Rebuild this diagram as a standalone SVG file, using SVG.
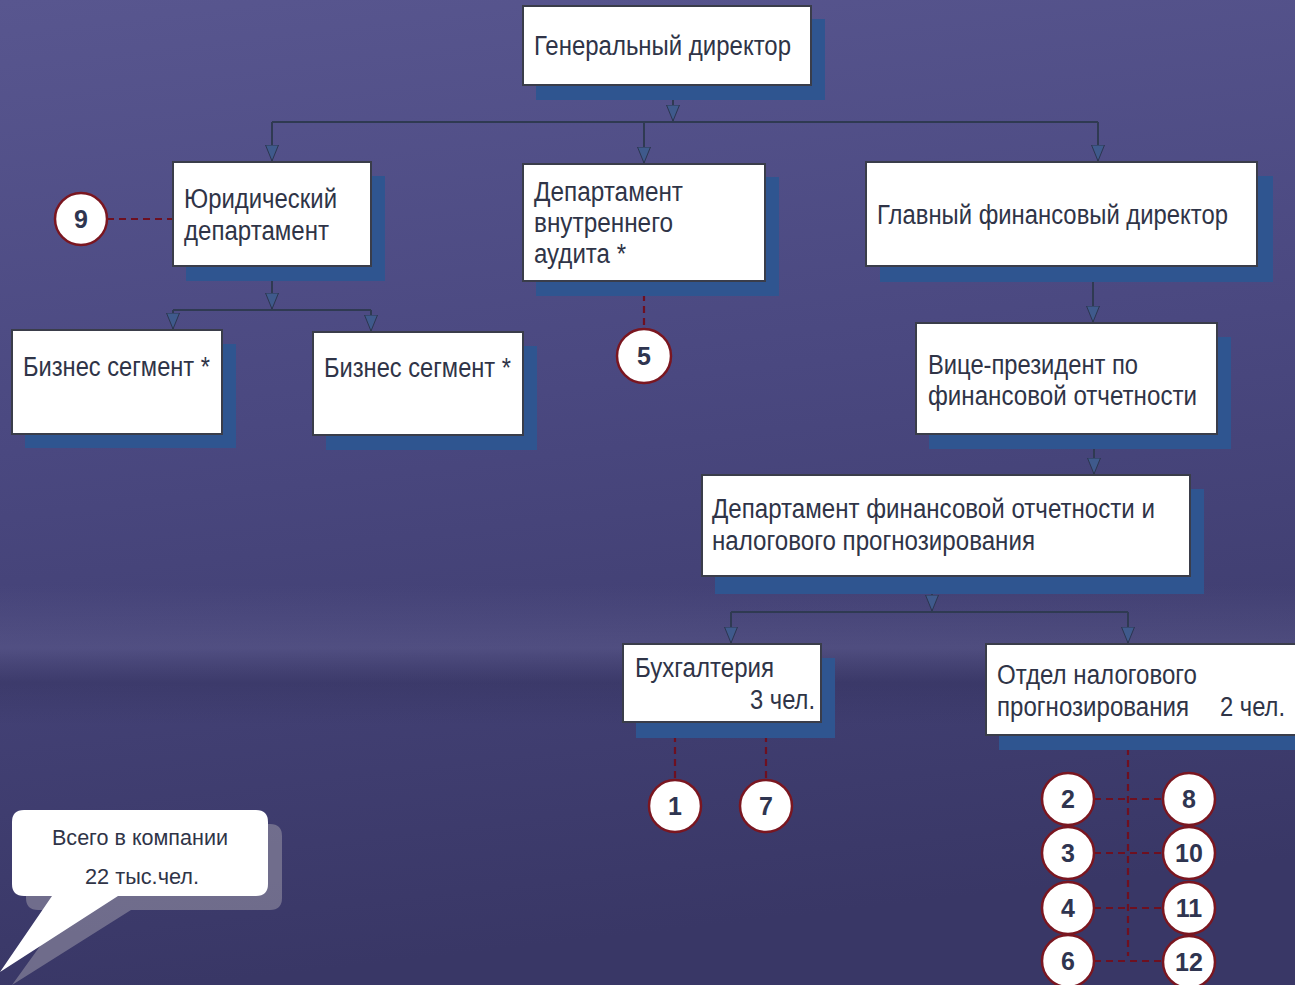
<svg xmlns="http://www.w3.org/2000/svg" width="1295" height="985" viewBox="0 0 1295 985">
<defs>
<linearGradient id="bg" x1="0" y1="0" x2="0.15" y2="1">
<stop offset="0" stop-color="#58568f"/>
<stop offset="0.45" stop-color="#4a4880"/>
<stop offset="1" stop-color="#393766"/>
</linearGradient>
<linearGradient id="band" x1="0" y1="0" x2="0" y2="1">
<stop offset="0" stop-color="#6a6898" stop-opacity="0"/>
<stop offset="0.45" stop-color="#6a6898" stop-opacity="0.35"/>
<stop offset="0.7" stop-color="#2e2c55" stop-opacity="0.3"/>
<stop offset="1" stop-color="#2e2c55" stop-opacity="0"/>
</linearGradient>
<marker id="arr" viewBox="0 0 16 14" refX="16" refY="7" markerWidth="16" markerHeight="14" markerUnits="userSpaceOnUse" orient="auto">
<path d="M0,0.5 L16,7 L0,13.5 z" fill="#3f5a8c" stroke="#2c3650" stroke-width="1"/>
</marker>
<style>
.box{fill:#ffffff;stroke:#3a3d4a;stroke-width:2}
.sh{fill:#2f5590}
.t{font-family:"Liberation Sans",Arial,sans-serif;font-size:27px;fill:#2f3447}
.ln{fill:none;stroke:#2f3a52;stroke-width:2}
.dash{fill:none;stroke:#6e1020;stroke-width:2.2;stroke-dasharray:7,5}
.c{fill:#ffffff;stroke:#7a1620;stroke-width:2.5}
.n{font-family:"Liberation Sans",Arial,sans-serif;font-size:25px;font-weight:bold;fill:#2f3550;text-anchor:middle}
.ct{font-family:"Liberation Sans",Arial,sans-serif;font-size:22px;fill:#2f3447;text-anchor:middle}
</style>
</defs>
<rect x="0" y="0" width="1295" height="985" fill="url(#bg)"/>
<rect x="0" y="585" width="1295" height="140" fill="url(#band)"/>

<g id="connectors">
<path class="ln" d="M673 86 V121" marker-end="url(#arr)"/>
<path class="ln" d="M272 122 H1098"/>
<path class="ln" d="M272 122 V161" marker-end="url(#arr)"/>
<path class="ln" d="M644 122 V163" marker-end="url(#arr)"/>
<path class="ln" d="M1098 122 V161" marker-end="url(#arr)"/>
<path class="ln" d="M272 267 V309" marker-end="url(#arr)"/>
<path class="ln" d="M173 310 H371"/>
<path class="ln" d="M173 310 V329" marker-end="url(#arr)"/>
<path class="ln" d="M371 310 V331" marker-end="url(#arr)"/>
<path class="ln" d="M1093 282 V322" marker-end="url(#arr)"/>
<path class="ln" d="M1094 449 V474" marker-end="url(#arr)"/>
<path class="ln" d="M932 594 V611" marker-end="url(#arr)"/>
<path class="ln" d="M731 612 H1128"/>
<path class="ln" d="M731 612 V643" marker-end="url(#arr)"/>
<path class="ln" d="M1128 612 V643" marker-end="url(#arr)"/>
<path class="dash" d="M107 219 H173"/>
<path class="dash" d="M644 282 V329"/>
<path class="dash" d="M675 723 V779"/>
<path class="dash" d="M766 723 V779"/>
<path class="dash" d="M1128 736 V956"/>
<path class="dash" d="M1094 799 H1162"/>
<path class="dash" d="M1094 853 H1162"/>
<path class="dash" d="M1094 908 H1162"/>
<path class="dash" d="M1094 961 H1162"/>
</g>

<g id="ceo">
<rect class="sh" x="536" y="19" width="289" height="81"/>
<rect class="box" x="523" y="6" width="288" height="79"/>
<text class="t" x="534" y="55" textLength="257" lengthAdjust="spacingAndGlyphs">Генеральный директор</text>
</g>

<g id="legal">
<rect class="sh" x="186" y="176" width="199" height="105"/>
<rect class="box" x="173" y="162" width="198" height="104"/>
<text class="t" x="184" y="208" textLength="153" lengthAdjust="spacingAndGlyphs">Юридический</text>
<text class="t" x="184" y="240" textLength="145" lengthAdjust="spacingAndGlyphs">департамент</text>
</g>

<g id="audit">
<rect class="sh" x="536" y="177" width="243" height="119"/>
<rect class="box" x="523" y="164" width="242" height="117"/>
<text class="t" x="534" y="201" textLength="149" lengthAdjust="spacingAndGlyphs">Департамент</text>
<text class="t" x="534" y="232" textLength="139" lengthAdjust="spacingAndGlyphs">внутреннего</text>
<text class="t" x="534" y="263" textLength="92" lengthAdjust="spacingAndGlyphs">аудита *</text>
</g>

<g id="cfo">
<rect class="sh" x="880" y="176" width="393" height="106"/>
<rect class="box" x="866" y="162" width="391" height="104"/>
<text class="t" x="877" y="224" textLength="351" lengthAdjust="spacingAndGlyphs">Главный финансовый директор</text>
</g>

<g id="seg1">
<rect class="sh" x="25" y="344" width="211" height="104"/>
<rect class="box" x="12" y="330" width="210" height="104"/>
<text class="t" x="23" y="376" textLength="187" lengthAdjust="spacingAndGlyphs">Бизнес сегмент *</text>
</g>

<g id="seg2">
<rect class="sh" x="326" y="346" width="211" height="104"/>
<rect class="box" x="313" y="332" width="210" height="103"/>
<text class="t" x="324" y="377" textLength="187" lengthAdjust="spacingAndGlyphs">Бизнес сегмент *</text>
</g>

<g id="vp">
<rect class="sh" x="929" y="337" width="302" height="112"/>
<rect class="box" x="916" y="323" width="301" height="111"/>
<text class="t" x="928" y="374" textLength="210" lengthAdjust="spacingAndGlyphs">Вице-президент по</text>
<text class="t" x="928" y="405" textLength="269" lengthAdjust="spacingAndGlyphs">финансовой отчетности</text>
</g>

<g id="frdept">
<rect class="sh" x="715" y="489" width="489" height="105"/>
<rect class="box" x="702" y="475" width="488" height="101"/>
<text class="t" x="712" y="518" textLength="443" lengthAdjust="spacingAndGlyphs">Департамент финансовой отчетности и</text>
<text class="t" x="712" y="550" textLength="323" lengthAdjust="spacingAndGlyphs">налогового прогнозирования</text>
</g>

<g id="acct">
<rect class="sh" x="636" y="658" width="199" height="80"/>
<rect class="box" x="623" y="644" width="198" height="78"/>
<text class="t" x="635" y="677" textLength="139" lengthAdjust="spacingAndGlyphs">Бухгалтерия</text>
<text class="t" x="750" y="709" textLength="65" lengthAdjust="spacingAndGlyphs">3 чел.</text>
</g>

<g id="tax">
<rect class="sh" x="999" y="658" width="310" height="92"/>
<rect class="box" x="986" y="644" width="320" height="91"/>
<text class="t" x="997" y="684" textLength="200" lengthAdjust="spacingAndGlyphs">Отдел налогового</text>
<text class="t" x="997" y="716" textLength="192" lengthAdjust="spacingAndGlyphs">прогнозирования</text>
<text class="t" x="1220" y="716" textLength="65" lengthAdjust="spacingAndGlyphs">2 чел.</text>
</g>

<g id="c9"><circle class="c" cx="81" cy="219" r="26"/><text class="n" x="81" y="228">9</text></g>
<g id="c5"><circle class="c" cx="644" cy="356" r="27"/><text class="n" x="644" y="365">5</text></g>
<g id="c1"><circle class="c" cx="675" cy="806" r="26"/><text class="n" x="675" y="815">1</text></g>
<g id="c7"><circle class="c" cx="766" cy="806" r="26"/><text class="n" x="766" y="815">7</text></g>
<g id="c2"><circle class="c" cx="1068" cy="799" r="26"/><text class="n" x="1068" y="808">2</text></g>
<g id="c3"><circle class="c" cx="1068" cy="853" r="26"/><text class="n" x="1068" y="862">3</text></g>
<g id="c4"><circle class="c" cx="1068" cy="908" r="26"/><text class="n" x="1068" y="917">4</text></g>
<g id="c6"><circle class="c" cx="1068" cy="961" r="26"/><text class="n" x="1068" y="970">6</text></g>
<g id="c8"><circle class="c" cx="1189" cy="799" r="26"/><text class="n" x="1189" y="808">8</text></g>
<g id="c10"><circle class="c" cx="1189" cy="853" r="26"/><text class="n" x="1189" y="862">10</text></g>
<g id="c11"><circle class="c" cx="1189" cy="908" r="26"/><text class="n" x="1189" y="917">11</text></g>
<g id="c12"><circle class="c" cx="1189" cy="962" r="26"/><text class="n" x="1189" y="971">12</text></g>

<g id="callout">
<path d="M38 824 H270 Q282 824 282 836 V898 Q282 910 270 910 H131 L12 985 L66 910 H38 Q26 910 26 898 V836 Q26 824 38 824 Z" fill="#9a98a8" fill-opacity="0.55"/>
<path d="M24 810 H256 Q268 810 268 822 V884 Q268 896 256 896 H118 L0 972 L52 896 H24 Q12 896 12 884 V822 Q12 810 24 810 Z" fill="#ffffff"/>
<text class="ct" x="140" y="845" textLength="176" lengthAdjust="spacingAndGlyphs">Всего в компании</text>
<text class="ct" x="142" y="884" textLength="114" lengthAdjust="spacingAndGlyphs">22 тыс.чел.</text>
</g>
</svg>
